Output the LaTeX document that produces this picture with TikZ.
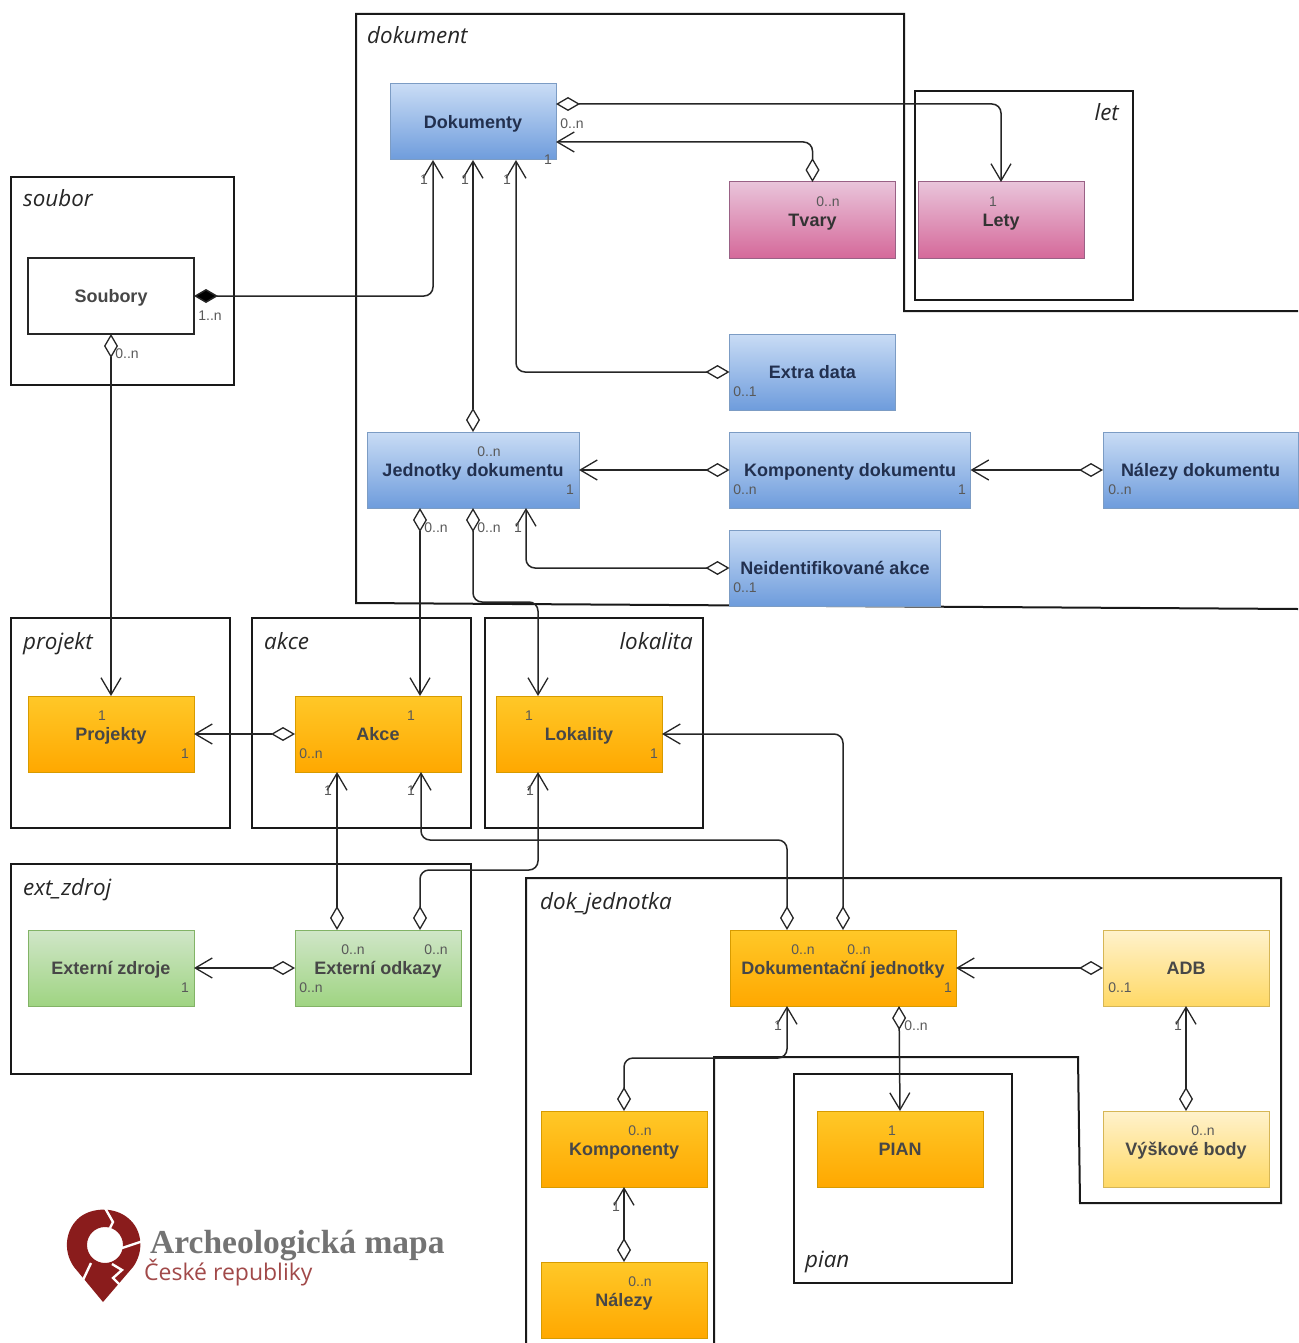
\documentclass[tikz,border=0pt]{standalone}
\usepackage{fontspec}
\setmainfont{Liberation Sans}
\newfontfamily\framefont{Open Sans}
\newfontfamily\logofont{Liberation Serif}
\usetikzlibrary{arrows.meta,calc}
\definecolor{blueB}{HTML}{7C9CC4}\definecolor{blueT}{HTML}{C9DCF5}\definecolor{blueE}{HTML}{6E9CDC}
\definecolor{pinkB}{HTML}{996185}\definecolor{pinkT}{HTML}{E9C4DA}\definecolor{pinkE}{HTML}{D5699A}
\definecolor{orB}{HTML}{D79B00}\definecolor{orT}{HTML}{FFC828}\definecolor{orE}{HTML}{FFA800}
\definecolor{grB}{HTML}{82B366}\definecolor{grT}{HTML}{D0E6C8}\definecolor{grE}{HTML}{9FD482}
\definecolor{yeB}{HTML}{D6B656}\definecolor{yeT}{HTML}{FFF2CC}\definecolor{yeE}{HTML}{FFD966}
\definecolor{logored}{HTML}{8A1C1C}
\definecolor{bluetxt}{HTML}{22304F}
\tikzset{
  ubox/.style={outer sep=0pt,inner sep=0pt,line width=1pt,font=\fontsize{18}{20}\selectfont\bfseries,align=center,text height=12.5pt,text depth=0pt},
  blueb/.style={ubox,draw=blueB,top color=blueT,bottom color=blueE,text=bluetxt},
  pinkb/.style={ubox,draw=pinkB,top color=pinkT,bottom color=pinkE,text=black!80},
  orb/.style={ubox,draw=orB,top color=orT,bottom color=orE,text=black!72},
  grb/.style={ubox,draw=grB,top color=grT,bottom color=grE,text=black!72},
  yeb/.style={ubox,draw=yeB,top color=yeT,bottom color=yeE,text=black!72},
  whb/.style={ubox,draw=black!85,line width=1.1pt,fill=white,text=black!72},
  sz/.style 2 args={minimum width=#1pt,minimum height=#2pt},
  mult/.style={font=\fontsize{14}{16}\selectfont,text=black!65,inner sep=0pt},
  frametxt/.style={font=\framefont\itshape\fontsize{22.4}{26}\selectfont,text=black!85,inner sep=0pt,anchor=base west},
  framebox/.style={draw=black!90,line width=2pt},
  conn/.style={draw=black!85,line width=1.5pt,rounded corners=9pt},
  da/.style={conn,{Diamond[fill=white,length=24pt,width=14pt,line width=1.3pt]}-{Straight Barb[length=17pt,width=20pt,line width=1.3pt]}},
  fa/.style={conn,{Diamond[fill=black,length=24pt,width=14pt]}-{Straight Barb[length=17pt,width=20pt,line width=1.3pt]}},
}
\begin{document}
\begin{tikzpicture}[x=1pt,y=-1pt]
\useasboundingbox (0,0) rectangle (1298,1343);
% frames
\draw[framebox] (1298,311) -- (904,311) -- (904,14) -- (356,14) -- (356,603) -- (1298,609);
\draw[framebox] (915,91) rectangle (1133,300);
\draw[framebox] (11,177) rectangle (234,385);
\draw[framebox] (11,618) rectangle (230,828);
\draw[framebox] (252,618) rectangle (471,828);
\draw[framebox] (485,618) rectangle (703,828);
\draw[framebox] (11,864) rectangle (471,1074);
\draw[framebox] (526,1343) -- (526,878) -- (1281,878) -- (1281,1203) -- (1080,1203) -- (1078,1057) -- (714,1057) -- (714,1343);
\draw[framebox] (794,1074) rectangle (1012,1283);
\node[frametxt] (fdok) at (367,44) {dokument};
\node[frametxt,anchor=base east] (flet) at (1119,121) {let};
\node[frametxt] (fsou) at (23,207) {soubor};
\node[frametxt] (fpro) at (23,649) {projekt};
\node[frametxt] (fakc) at (264,649) {akce};
\node[frametxt,anchor=base east] (flok) at (693,649) {lokalita};
\node[frametxt] (fext) at (23,895) {ext\_zdroj};
\node[frametxt] (fdj) at (540,909) {dok\_jednotka};
\node[frametxt] (fpian) at (805,1267) {pian};
% boxes
\node[blueb,sz={166}{76}] (dok) at (473,122) {Dokumenty};
\node[pinkb,sz={166}{76}] (tva) at (812.5,220) {Tvary};
\node[pinkb,sz={166}{76}] (let) at (1001,220) {Lety};
\node[whb,sz={166}{76}] (sou) at (111,296) {Soubory};
\node[blueb,sz={166}{76}] (ext) at (812.5,372) {Extra data};
\node[blueb,sz={212}{76}] (jed) at (473,470) {Jednotky dokumentu};
\node[blueb,sz={241}{76}] (kod) at (850,470) {Komponenty dokumentu};
\node[blueb,sz={195}{76}] (nad) at (1200.5,470) {Nálezy dokumentu};
\node[blueb,sz={211}{76}] (nei) at (835,568) {Neidentifikované akce};
\node[orb,sz={166}{76}] (pro) at (111,734) {Projekty};
\node[orb,sz={166}{76}] (akc) at (378,734) {Akce};
\node[orb,sz={166}{76}] (lok) at (579,734) {Lokality};
\node[grb,sz={166}{76}] (exz) at (111,968) {Externí zdroje};
\node[grb,sz={166}{76}] (exo) at (378,968) {Externí odkazy};
\node[orb,sz={226}{76}] (dj) at (843,968) {Dokumentační jednotky};
\node[yeb,sz={166}{76}] (adb) at (1186,968) {ADB};
\node[yeb,sz={166}{76}] (vys) at (1186,1149) {Výškové body};
\node[orb,sz={166}{76}] (kom) at (624,1149) {Komponenty};
\node[orb,sz={166}{76}] (pia) at (900,1149) {PIAN};
\node[orb,sz={166}{76}] (nal) at (624,1300) {Nálezy};
% connectors
\draw[da] ([yshift=-20pt]dok.north east) -| (let.north);
\draw[da] (tva.north) |- ([yshift=18pt]dok.south east);
\draw[fa] (sou.east) -| ([xshift=43pt]dok.south west);
\draw[da] (jed.north) -- (dok.south);
\draw[da] (ext.west) -| ([xshift=126pt]dok.south west);
\draw[da] (kod.west) -- (jed.east);
\draw[da] (nad.west) -- (kod.east);
\draw[da] (nei.west) -| ([xshift=159pt]jed.south west);
\draw[da] ([xshift=53pt]jed.south west) -- ([xshift=125pt]akc.north west);
\draw[da] (jed.south) -- ++(0,94) -| ([xshift=42pt]lok.north west);
\draw[da] (sou.south) -- (pro.north);
\draw[da] (akc.west) -- (pro.east);
\draw[da] (dj.north) |- (lok.east);
\draw[da] ([xshift=57pt]dj.north west) -- ++(0,-90) -| ([xshift=126pt]akc.south west);
\draw[da] ([xshift=42pt]exo.north west) -- ([xshift=42pt]akc.south west);
\draw[da] ([xshift=125pt]exo.north west) -- ++(0,-60) -| ([xshift=42pt]lok.south west);
\draw[da] (exo.west) -- (exz.east);
\draw[da] (adb.west) -- (dj.east);
\draw[da] (vys.north) -- (adb.south);
\draw[da] ([xshift=169pt]dj.south west) -- (pia.north);
\draw[da] (kom.north) -- ++(0,-53) -| ([xshift=57pt]dj.south west);
\draw[da] (nal.north) -- (kom.south);
% multiplicities
\node[mult] (m1) at (572,124) {0..n};
\node[mult] (m2) at (548,160) {1};
\node[mult] (m3) at (424,180) {1};
\node[mult] (m4) at (465,180) {1};
\node[mult] (m5) at (507,180) {1};
\node[mult] (m6) at (828,202) {0..n};
\node[mult] (m7) at (993,202) {1};
\node[mult] (m8) at (210,316) {1..n};
\node[mult] (m9) at (127,354) {0..n};
\node[mult] (m10) at (745,392) {0..1};
\node[mult] (m11) at (489,452) {0..n};
\node[mult] (m12) at (570,490) {1};
\node[mult] (m13) at (745,490) {0..n};
\node[mult] (m14) at (962,490) {1};
\node[mult] (m15) at (1120,490) {0..n};
\node[mult] (m16) at (436,528) {0..n};
\node[mult] (m17) at (489,528) {0..n};
\node[mult] (m18) at (518,528) {1};
\node[mult] (m19) at (745,588) {0..1};
\node[mult] (m20) at (102,716) {1};
\node[mult] (m21) at (185,754) {1};
\node[mult] (m22) at (311,754) {0..n};
\node[mult] (m23) at (411,716) {1};
\node[mult] (m24) at (529,716) {1};
\node[mult] (m25) at (654,754) {1};
\node[mult] (m26) at (328,791) {1};
\node[mult] (m27) at (411,791) {1};
\node[mult] (m28) at (530,791) {1};
\node[mult] (m29) at (353,950) {0..n};
\node[mult] (m30) at (436,950) {0..n};
\node[mult] (m31) at (311,988) {0..n};
\node[mult] (m32) at (185,988) {1};
\node[mult] (m33) at (803,950) {0..n};
\node[mult] (m34) at (859,950) {0..n};
\node[mult] (m35) at (948,988) {1};
\node[mult] (m36) at (1120,988) {0..1};
\node[mult] (m37) at (778,1026) {1};
\node[mult] (m38) at (916,1026) {0..n};
\node[mult] (m39) at (1178,1026) {1};
\node[mult] (m40) at (1203,1131) {0..n};
\node[mult] (m41) at (892,1131) {1};
\node[mult] (m42) at (640,1131) {0..n};
\node[mult] (m43) at (616,1207) {1};
\node[mult] (m44) at (640,1282) {0..n};
% logo
\fill[logored,even odd rule] (103,1302) -- (74,1267) .. controls (62,1250) and (66,1228) .. (80,1217) .. controls (93,1207) and (115,1207) .. (128,1218) .. controls (143,1230) and (144,1252) .. (133,1267) -- cycle
  (105,1245) circle[radius=18];
\draw[white,line width=2.4pt] (105,1208) -- (113,1222) -- (110,1228);
\draw[white,line width=2.4pt] (122,1248) -- (143,1241);
\draw[white,line width=2.4pt] (112,1264) -- (122,1270) -- (113,1278) -- (122,1287);
\draw[white,line width=2.4pt] (83,1280) -- (91,1263);
\node[inner sep=0pt,anchor=base west,text=black!55,font=\logofont\bfseries\fontsize{33.5}{36}\selectfont] (lg1) at (150,1253) {Archeologická mapa};
\node[inner sep=0pt,anchor=base west,text=logored!80,font=\framefont\fontsize{23}{26}\selectfont] (lg2) at (144,1280) {České republiky};
\end{tikzpicture}
\end{document}
